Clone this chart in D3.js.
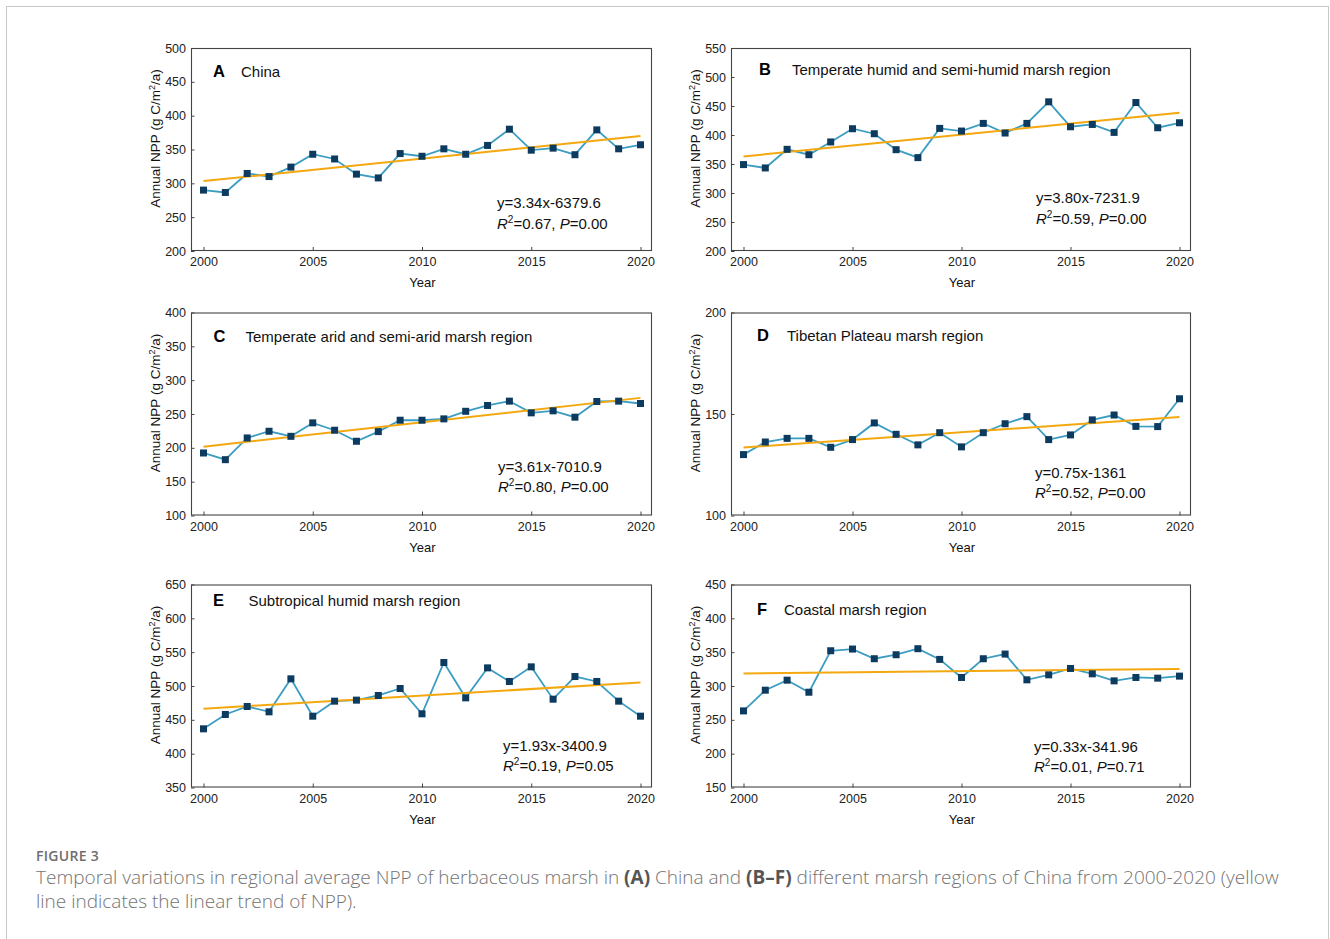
<!DOCTYPE html>
<html>
<head>
<meta charset="utf-8">
<script src="https://cdn.jsdelivr.net/npm/d3@7"></script>
<style>
  body { margin: 0; background: #fff; }
  #area text { font-family: 'Liberation Sans', Arial, sans-serif; }
  #area .caption { font-family: 'Open Sans', 'Noto Sans', sans-serif; }
</style>
</head>
<body>
<svg id="area" width="1330" height="939"></svg>
<script>
// values
const years = [2000, 2001, 2002, 2003, 2004, 2005, 2006, 2007, 2008, 2009, 2010,
  2011, 2012, 2013, 2014, 2015, 2016, 2017, 2018, 2019, 2020];
const yearTicks = [2000, 2005, 2010, 2015, 2020];

const panelLetters = ['A', 'B', 'C', 'D', 'E', 'F'];
const panelTitles = [
  'China',
  'Temperate humid and semi-humid marsh region',
  'Temperate arid and semi-arid marsh region',
  'Tibetan Plateau marsh region',
  'Subtropical humid marsh region',
  'Coastal marsh region',
];

const nppChina = [290, 286.5, 314.6, 310, 324, 343, 336, 313.6, 308, 344, 340,
  351, 343, 356, 380, 349, 352, 342.3, 379, 351, 357];
const nppTemperateHumid = [349, 343.2, 375.3, 366, 388, 410.8, 402.2, 374.7, 361, 411.4, 406.8,
  420, 403.4, 420, 457.2, 414.2, 418.2, 404.5, 456, 412.5, 421.1];
const nppTemperateArid = [192.4, 182.5, 214.6, 224.5, 217, 236.9, 226, 209.7, 224, 240.8, 240.8,
  242.8, 254, 262.6, 269, 251.7, 254.7, 245.3, 268.5, 269, 265.5];
const nppTibetan = [130, 136.2, 138, 138, 133.6, 137.4, 145.6, 140, 134.8, 140.8, 133.8,
  140.8, 145.2, 148.7, 137.4, 139.7, 147.1, 149.5, 143.9, 143.8, 157.5];
const nppSubtropical = [436.7, 457.9, 469.7, 461.8, 510.6, 455.4, 477.6, 479.1, 486, 496.3, 458.9,
  534.7, 482.5, 526.8, 506.7, 528.3, 480.5, 514, 506.7, 477.6, 455.4];
const nppCoastal = [263.2, 293.8, 308.6, 290.8, 352.1, 354.6, 340.3, 346.2, 355.1, 339.3, 312.6,
  340.3, 347.2, 309.1, 316.5, 325.9, 318, 307.6, 312.6, 311.6, 314.6];

const equations = ['y=3.34x-6379.6', 'y=3.80x-7231.9', 'y=3.61x-7010.9',
  'y=0.75x-1361', 'y=1.93x-3400.9', 'y=0.33x-341.96'];
const r2Values = ['0.67', '0.59', '0.80', '0.52', '0.19', '0.01'];
const pValues = ['0.00', '0.00', '0.00', '0.00', '0.05', '0.71'];

const yDomains = [[200, 500], [200, 550], [100, 400], [100, 200], [350, 650], [150, 450]];
const yTicks = [
  [200, 250, 300, 350, 400, 450, 500],
  [200, 250, 300, 350, 400, 450, 500, 550],
  [100, 150, 200, 250, 300, 350, 400],
  [100, 150, 200],
  [350, 400, 450, 500, 550, 600, 650],
  [150, 200, 250, 300, 350, 400, 450],
];

const series = [nppChina, nppTemperateHumid, nppTemperateArid, nppTibetan, nppSubtropical, nppCoastal];

// layout
const colLeft = [191, 731];
const colWidth = [461, 460];
const rowTop = [48, 312.5, 584.5];
const boxHeight = 203;
const letterDx = [22, 28, 22.5, 26, 22, 26];
const titleDx = [50, 61, 54.5, 56, 57.5, 53];
const titleDy = [28.5, 27, 29, 28, 21.5, 30.5];
const eqDx = [306, 305, 307, 304, 312, 303];
const eqDy = [160, 155, 159, 165, 166, 167];

const lineColor = '#3c9dc2';
const markerColor = '#0d3b5f';
const trendColor = '#f4a80f';
const axisColor = '#444';

const svg = d3.select('#area');

svg.append('rect')
  .attr('x', 6.5)
  .attr('y', 6.5)
  .attr('width', 1322)
  .attr('height', 1000)
  .attr('fill', 'none')
  .attr('stroke', '#c8c8c8');

function linearFit(xs, ys) {
  const mx = d3.mean(xs);
  const my = d3.mean(ys);
  const slope = d3.sum(xs, (v, i) => (v - mx) * (ys[i] - my)) / d3.sum(xs, (v) => (v - mx) ** 2);
  return { slope, intercept: my - slope * mx };
}

series.forEach((values, i) => {
  const col = i % 2;
  const row = Math.floor(i / 2);
  const left = colLeft[col];
  const width = colWidth[col];
  const top = rowTop[row];

  const g = svg.append('g').attr('transform', `translate(${left}, ${top})`);

  const x = d3.scaleLinear()
    .domain([2000, 2020])
    .range([12.5, width - 11.5]);
  const y = d3.scaleLinear()
    .domain(yDomains[i])
    .range([boxHeight, 0]);

  const xAxis = d3.axisBottom(x)
    .tickValues(yearTicks)
    .tickFormat(d3.format('d'))
    .tickSizeInner(-4)
    .tickSizeOuter(0)
    .tickPadding(6.5);
  const yAxis = d3.axisLeft(y)
    .tickValues(yTicks[i])
    .tickSizeInner(-3.5)
    .tickSizeOuter(0)
    .tickPadding(5);

  const gx = g.append('g')
    .attr('transform', `translate(0, ${boxHeight})`)
    .call(xAxis);
  const gy = g.append('g').call(yAxis);

  [gx, gy].forEach((ax) => {
    ax.select('.domain').remove();
    ax.attr('font-size', 12.5).attr('font-family', null);
    ax.selectAll('line').attr('stroke', axisColor);
    ax.selectAll('text').attr('fill', '#222');
  });

  g.append('rect')
    .attr('x', 0.5)
    .attr('y', 0.5)
    .attr('width', width - 1)
    .attr('height', boxHeight - 1)
    .attr('fill', 'none')
    .attr('stroke', axisColor)
    .attr('stroke-width', 1.1);

  const points = years.map((yr, k) => ({ year: yr, value: values[k] }));

  g.append('path')
    .datum(points)
    .attr('fill', 'none')
    .attr('stroke', lineColor)
    .attr('stroke-width', 1.8)
    .attr('d', d3.line().x((d) => x(d.year)).y((d) => y(d.value)));

  const fit = linearFit(years, values);
  g.append('line')
    .attr('x1', x(2000))
    .attr('y1', y(fit.slope * 2000 + fit.intercept))
    .attr('x2', x(2020))
    .attr('y2', y(fit.slope * 2020 + fit.intercept))
    .attr('stroke', trendColor)
    .attr('stroke-width', 2);

  g.selectAll('rect.marker')
    .data(points)
    .enter()
    .append('rect')
    .attr('class', 'marker')
    .attr('x', (d) => x(d.year) - 3.5)
    .attr('y', (d) => y(d.value) - 3.5)
    .attr('width', 7)
    .attr('height', 7)
    .attr('fill', markerColor);

  g.append('text')
    .attr('x', letterDx[i])
    .attr('y', titleDy[i])
    .attr('font-size', 16.5)
    .attr('font-weight', 'bold')
    .text(panelLetters[i]);

  g.append('text')
    .attr('x', titleDx[i])
    .attr('y', titleDy[i])
    .attr('font-size', 15)
    .attr('fill', '#111')
    .text(panelTitles[i]);

  g.append('text')
    .attr('x', eqDx[i])
    .attr('y', eqDy[i])
    .attr('font-size', 15)
    .attr('fill', '#111')
    .text(equations[i]);

  const r2 = g.append('text')
    .attr('x', eqDx[i])
    .attr('y', eqDy[i] + 20.5)
    .attr('font-size', 15)
    .attr('fill', '#111');
  r2.append('tspan').attr('font-style', 'italic').text('R');
  r2.append('tspan').attr('font-size', 10).attr('dy', -6).text('2');
  r2.append('tspan').attr('dy', 6).text(`=${r2Values[i]}, `);
  r2.append('tspan').attr('font-style', 'italic').text('P');
  r2.append('tspan').text(`=${pValues[i]}`);

  g.append('text')
    .attr('x', width / 2 + 1)
    .attr('y', boxHeight + 36)
    .attr('text-anchor', 'middle')
    .attr('font-size', 13)
    .attr('fill', '#111')
    .text('Year');

  const yl = g.append('text')
    .attr('transform', `translate(-31, ${boxHeight / 2 - 11}) rotate(-90)`)
    .attr('text-anchor', 'middle')
    .attr('font-size', 13.5)
    .attr('fill', '#111');
  yl.append('tspan').text('Annual NPP (g C/m');
  yl.append('tspan').attr('font-size', 9).attr('dy', -5).text('2');
  yl.append('tspan').attr('dy', 5).text('/a)');
});

// caption
svg.append('text')
  .attr('class', 'caption')
  .attr('x', 36)
  .attr('y', 861)
  .attr('font-size', 14)
  .attr('font-weight', 600)
  .attr('letter-spacing', 0.3)
  .attr('fill', '#6e6e6e')
  .text('FIGURE 3');

const captionLines = [
  [['Temporal variations in regional average NPP of herbaceous marsh in ', false], ['(A)', true],
    [' China and ', false], ['(B\u2013F)', true],
    [' different marsh regions of China from 2000-2020 (yellow', false]],
  [['line indicates the linear trend of NPP).', false]],
];

captionLines.forEach((parts, li) => {
  const t = svg.append('text')
    .attr('class', 'caption')
    .attr('x', 36)
    .attr('y', 884 + li * 23.5)
    .attr('font-size', 19)
    .attr('font-weight', 300)
    .attr('fill', '#737373');
  parts.forEach(([s, bold]) => {
    t.append('tspan')
      .attr('font-weight', bold ? 700 : 300)
      .attr('fill', bold ? '#555' : '#737373')
      .text(s);
  });
});
</script>
</body>
</html>
